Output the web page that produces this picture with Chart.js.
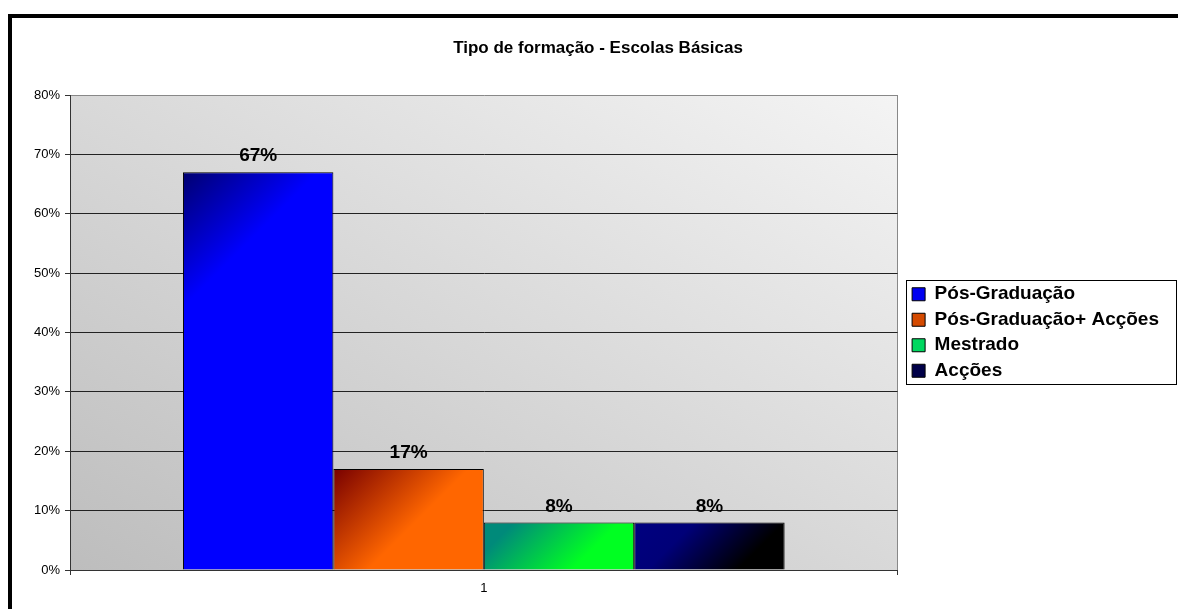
<!DOCTYPE html>
<html>
<head>
<meta charset="utf-8">
<title>Tipo de formação - Escolas Básicas</title>
<script src="https://cdn.jsdelivr.net/npm/chart.js@4.4.1/dist/chart.umd.min.js"></script>
<style>
  html, body { margin: 0; padding: 0; background: #fff; overflow: hidden; }
  #frame { position: absolute; left: 8px; top: 14px; width: 2000px; height: 2000px;
           border-top: 4px solid #000; border-left: 4px solid #000; }
  #chart { position: absolute; left: 0; top: 0; }
</style>
</head>
<body>
<div id="frame"></div>
<canvas id="chart" width="1178" height="609"></canvas>
<script>
// data
const categories = ['1'];
const series_names = ['Pós-Graduação', 'Pós-Graduação+ Acções', 'Mestrado', 'Acções'];
const pos_graduacao = [67];
const pos_graduacao_accoes = [17];
const mestrado = [8];
const accoes = [8];
const y_max = 80;
const y_step = 10;

const FONT = '"Liberation Sans", Arial, Helvetica, sans-serif';

// legend colours, plus gradient stops used on the bars (top-left -> bottom-right)
const solid_colors = ['#0000f0', '#d44a00', '#00d860', '#000048'];
const shade_stops = [
    [[0, '#000070'], [0.45, '#0000ff'], [1, '#0000ff']],
    [[0, '#780000'], [0.45, '#ff6600'], [1, '#ff6600']],
    [[0, '#008a7a'], [0.1, '#008a7a'], [0.45, '#00ff22'], [1, '#00ff22']],
    [[0, '#000080'], [0.2, '#000078'], [0.5, '#000000'], [1, '#000000']]
];

const plotShading = {
    id: 'plotShading',
    beforeDraw(chart){
        const ctx = chart.ctx;
        const a = chart.chartArea;
        const w = a.right - a.left, h = a.bottom - a.top;
        const k = 2 * w * h / (w * w + h * h);
        const g = ctx.createLinearGradient(a.left, a.bottom, a.left + h * k, a.bottom - w * k);
        g.addColorStop(0, '#bdbdbd');
        g.addColorStop(1, '#f4f4f4');
        ctx.save();
        ctx.fillStyle = g;
        ctx.fillRect(a.left, a.top, w, h);
        ctx.restore();
    }
};

const barShading = {
    id: 'barShading',
    beforeDatasetsDraw(chart){
        const ctx = chart.ctx;
        chart.data.datasets.forEach(function(ds, i){
            chart.getDatasetMeta(i).data.forEach(function(bar){
                const left = bar.x - bar.width / 2;
                const g = ctx.createLinearGradient(left, bar.y, left + bar.width, bar.y + bar.width);
                shade_stops[i].forEach(function(s){ g.addColorStop(s[0], s[1]); });
                bar.options = Object.assign({}, bar.options, {backgroundColor: g});
            });
        });
    }
};

const valueLabels = {
    id: 'valueLabels',
    afterDatasetsDraw(chart){
        const ctx = chart.ctx;
        ctx.save();
        ctx.font = 'bold 19px ' + FONT;
        ctx.fillStyle = '#000';
        ctx.textAlign = 'center';
        ctx.textBaseline = 'alphabetic';
        chart.data.datasets.forEach(function(ds, i){
            chart.getDatasetMeta(i).data.forEach(function(bar, j){
                ctx.fillText(ds.data[j] + '%', bar.x, bar.y - 11);
            });
        });
        ctx.restore();
    }
};

const boxTweaks = {
    id: 'boxTweaks',
    afterLayout(chart){
        // legend: small gap from the plot, centred on the plot height
        const lg = chart.legend;
        lg.left += 8;
        lg.right += 8;
        lg.top = chart.chartArea.top;
        lg.bottom = chart.chartArea.bottom;
        lg.height = lg.bottom - lg.top;
        // title centred a bit right of the canvas middle
        chart.titleBlock.left += 5;
        chart.titleBlock.right += 5;
    },
    afterDraw(chart){
        const ctx = chart.ctx;
        const lg = chart.legend;
        const hb = lg.legendHitBoxes;
        if (!hb || !hb.length) return;
        const top = Math.round(hb[0].top - 4.5);
        const bottom = Math.round(hb[hb.length - 1].top + hb[hb.length - 1].height + 4);
        ctx.save();
        ctx.strokeStyle = '#000';
        ctx.lineWidth = 1;
        ctx.strokeRect(Math.round(lg.left) + 0.5, top + 0.5, 270, bottom - top);
        ctx.restore();
    }
};

const datasets = [pos_graduacao, pos_graduacao_accoes, mestrado, accoes].map(function(values, i){
    return {
        label: series_names[i],
        data: values,
        backgroundColor: solid_colors[i],
        borderColor: '#000',
        borderWidth: 1,
        categoryPercentage: 0.727,
        barPercentage: 1.0
    };
});

const ctx = document.getElementById('chart').getContext('2d');
const chart = new Chart(ctx, {
    type: 'bar',
    data: {
        labels: categories,
        datasets: datasets
    },
    plugins: [plotShading, barShading, valueLabels, boxTweaks],
    options: {
        responsive: false,
        maintainAspectRatio: false,
        devicePixelRatio: 1,
        animation: false,
        events: [],
        layout: { padding: { left: 25, right: 17, top: 0, bottom: 9 } },
        plugins: {
            title: {
                display: true,
                text: 'Tipo de formação - Escolas Básicas',
                color: '#000',
                font: { family: FONT, size: 17, weight: 'bold' },
                padding: { top: 37.8, bottom: 36.8 }
            },
            legend: {
                position: 'right',
                labels: {
                    boxWidth: 13,
                    boxHeight: 13,
                    padding: 6.5,
                    color: '#000',
                    font: { family: FONT, size: 19, weight: 'bold' }
                }
            },
            tooltip: { enabled: false }
        },
        scales: {
            x: {
                afterFit: function(s){ s.height = 30; },
                grid: { offset: true, color: '#888', tickColor: '#333', tickLength: 5, drawOnChartArea: true },
                border: { color: '#333', width: 1 },
                ticks: { color: '#000', padding: 6, font: { family: FONT, size: 13 } }
            },
            y: {
                min: 0,
                max: y_max,
                afterFit: function(s){ s.width = 45; },
                grid: {
                    color: function(c){ return c.tick && c.tick.value === y_max ? '#888' : '#222'; },
                    tickColor: '#333',
                    tickLength: 5
                },
                border: { color: '#333', width: 1 },
                ticks: {
                    stepSize: y_step,
                    color: '#000',
                    padding: 5,
                    font: { family: FONT, size: 13 },
                    callback: function(v){ return v + '%'; }
                }
            }
        }
    }
});
</script>
</body>
</html>
